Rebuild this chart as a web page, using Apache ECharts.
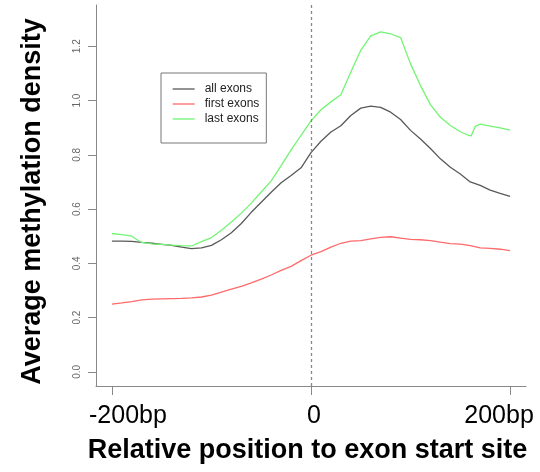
<!DOCTYPE html>
<html>
<head>
<meta charset="utf-8">
<script src="https://cdn.jsdelivr.net/npm/echarts@6/dist/echarts.min.js"></script>
<style>
html,body{margin:0;padding:0;background:#fff;}
#chart{width:540px;height:472px;}
</style>
</head>
<body>
<div id="chart"></div>
<script>
// Positions (bp relative to exon start site)
var positions = [-200,-190,-180,-170,-160,-150,-140,-130,-120,-110,-100,-90,-80,-70,-60,-50,-40,-30,-20,-10,0,10,20,30,40,50,60,70,80,90,100,110,120,130,140,150,160,170,180,190,200];
var allExons = [0.482,0.482,0.481,0.477,0.474,0.470,0.466,0.460,0.454,0.457,0.466,0.487,0.513,0.547,0.588,0.625,0.662,0.697,0.724,0.752,0.808,0.850,0.884,0.907,0.945,0.972,0.979,0.975,0.957,0.930,0.890,0.858,0.823,0.785,0.754,0.729,0.700,0.687,0.670,0.658,0.647];
var firstExons = [0.250,0.254,0.259,0.265,0.268,0.269,0.270,0.271,0.273,0.276,0.283,0.294,0.305,0.315,0.328,0.342,0.357,0.374,0.389,0.410,0.430,0.443,0.460,0.474,0.482,0.484,0.490,0.496,0.498,0.493,0.488,0.487,0.484,0.478,0.473,0.471,0.465,0.457,0.455,0.452,0.447];
var lastPositions = [-200,-190,-180,-175,-170,-160,-150,-140,-130,-120,-110,-100,-90,-80,-70,-60,-50,-40,-30,-20,-10,0,10,20,30,40,50,60,70,80,90,100,110,120,130,140,150,158,161,165,170,180,190,200];
var lastExons = [0.510,0.506,0.500,0.488,0.477,0.472,0.470,0.467,0.465,0.464,0.480,0.495,0.522,0.552,0.585,0.622,0.663,0.704,0.760,0.818,0.872,0.925,0.966,0.995,1.021,1.105,1.185,1.238,1.253,1.246,1.232,1.135,1.055,0.985,0.938,0.908,0.885,0.872,0.870,0.905,0.913,0.906,0.899,0.891];
var seriesNames = ['all exons','first exons','last exons'];
var xTicks = [-200, 0, 200];
var xTickLabels = ['-200bp', '0', '200bp'];
var yTicks = [0, 0.2, 0.4, 0.6, 0.8, 1.0, 1.2];

function zip(xs, ys){ return xs.map(function(x,i){ return [x, ys[i]]; }); }

var FONT = "'Liberation Sans', Arial, sans-serif";
var chart = echarts.init(document.getElementById('chart'), null, {renderer:'canvas'});
chart.setOption({
  animation: false,
  backgroundColor: '#ffffff',
  grid: {left: 96, right: 14, top: 5, bottom: 86, containLabel: false, outerBoundsMode: 'none'},
  legend: {
    show: true,
    data: seriesNames,
    orient: 'vertical',
    left: 161, top: 73,
    padding: [10, 7, 18, 11],
    itemWidth: 22, itemHeight: 10, itemGap: 3,
    borderColor: '#777', borderWidth: 1,
    itemStyle: {opacity: 0},
    lineStyle: {width: 1.3},
    textStyle: {fontFamily: FONT, fontSize: 12, color: '#222', padding: [0,0,0,5]}
  },
  xAxis: {
    type: 'value', min: -216, max: 216,
    name: 'Relative position to exon start site',
    nameLocation: 'middle', nameGap: 51,
    nameTextStyle: {fontFamily: FONT, fontSize: 27, fontWeight: 'bold', color: '#000', padding: [0, 7, 0, 0]},
    axisLine: {show: true, onZero: false, lineStyle: {color: '#888', width: 1}},
    axisTick: {show: true, customValues: xTicks, length: 9, lineStyle: {color: '#888'}},
    splitLine: {show: false},
    axisLabel: {
      customValues: xTicks, margin: 18,
      fontFamily: FONT, fontSize: 25, color: '#000',
      formatter: function(v){
        var i = xTicks.indexOf(v);
        var key = ['a','b','c'][i];
        return '{' + key + '|' + xTickLabels[i] + '}';
      },
      rich: {
        a: {fontFamily: FONT, fontSize: 25, color: '#000', padding: [0,0,0,32]},
        b: {fontFamily: FONT, fontSize: 25, color: '#000', padding: [0,0,0,6]},
        c: {fontFamily: FONT, fontSize: 25, color: '#000', padding: [0,22,0,0]}
      }
    }
  },
  yAxis: {
    type: 'value', min: -0.052, max: 1.352,
    name: 'Average methylation density',
    nameLocation: 'middle', nameGap: 50,
    nameTextStyle: {fontFamily: FONT, fontSize: 27, fontWeight: 'bold', color: '#000', padding: [0, 12, 0, 0]},
    axisLine: {show: true, onZero: false, lineStyle: {color: '#888', width: 1}},
    axisTick: {show: true, customValues: yTicks, length: 8, lineStyle: {color: '#888'}},
    splitLine: {show: false},
    axisLabel: {
      customValues: yTicks, rotate: 90, margin: 14,
      fontFamily: FONT, fontSize: 10, color: '#666',
      formatter: function(v){ return v.toFixed(1); }
    }
  },
  series: [
    {
      name: seriesNames[0], type: 'line', data: zip(positions, allExons),
      symbol: 'none', showSymbol: false, color: '#595959',
      lineStyle: {width: 1.3, color: '#595959'},
      z: 3,
      markLine: {
        silent: true, symbol: ['none','none'],
        label: {show: false},
        lineStyle: {color: '#888', type: [3,3], width: 1.3},
        data: [{xAxis: 0}]
      }
    },
    {
      name: seriesNames[1], type: 'line', data: zip(positions, firstExons),
      symbol: 'none', showSymbol: false, color: '#ff6a6a',
      lineStyle: {width: 1.3, color: '#ff6a6a'}
    },
    {
      name: seriesNames[2], type: 'line', data: zip(lastPositions, lastExons),
      symbol: 'none', showSymbol: false, color: '#72f572',
      lineStyle: {width: 1.3, color: '#72f572'}
    }
  ]
});
</script>
</body>
</html>
